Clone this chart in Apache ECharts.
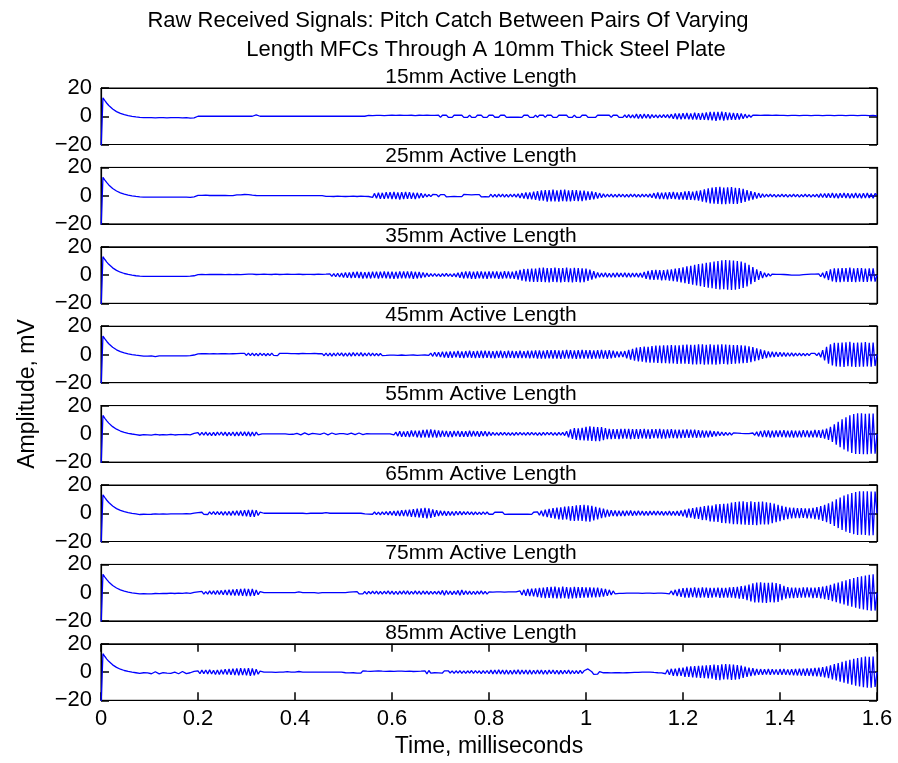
<!DOCTYPE html>
<html>
<head>
<meta charset="utf-8">
<script src="https://cdn.jsdelivr.net/npm/echarts@6/dist/echarts.min.js"></script>
<style>
html,body{margin:0;padding:0;background:#fff;}
#chart{width:898px;height:763px;}
</style>
</head>
<body>
<div id="chart"></div>
<script>
// ---------------- DATA ----------------
const timeStart = 0;      // ms
const timeEnd = 1.6;      // ms
const xTickValues = [0, 0.2, 0.4, 0.6, 0.8, 1, 1.2, 1.4, 1.6];
const yTickValues = [-20, 0, 20];
const panelLabels = ['15mm Active Length','25mm Active Length','35mm Active Length','45mm Active Length',
                     '55mm Active Length','65mm Active Length','75mm Active Length','85mm Active Length'];

// shared start of every record (t = 0 ... 0.076 ms), mV
const onset = [-25,13,11,9.2,7.6,6.2,5.1,4.1,3.3,2.6,2,1.5,1.1,0.7,0.4,0.1,-0.1,-0.3,-0.5,-0.6];

// remainder of each record (t = 0.080 ... 1.6 ms, 0.004 ms steps), mV
const sig15 = [
-0.8,-0.9,-1,-1,-1,
-1,-1,-1,-1.1,-1,-1,-1,-1,-1,-1.1,-1,-1,-1,-1,-1,-1,-1,-1.1,-1,-1,-0.4,-1.3,-0.3,-1.2,-0.4,
0,-0.2,0,0,0,0,0,0,0,0,0,0,0,0,0,0,0,0,0,0,0,0,0,0,0,
0,0,0,0,0,0.9,-0.5,0,0,0,0,0,0,0,0,0,0,0,0,0,0,0,0,0,0,
0,0,0,0,0,0,0,0,0,0,0,0,0,0,0,0,0,0,0,0,0,0,0,0,0,
0,0,0,0,0,0,0,0,0,0,0,0,0,0.6,-0.6,0.5,-0.6,0.6,-0.5,0.6,-0.6,0.5,-0.6,0.6,-0.5,
0.7,-0.6,0.6,-0.7,0.7,-0.5,0.6,-0.7,0.6,-0.6,0.7,-0.6,0.5,-0.7,0.7,-0.6,0.6,-0.6,0.7,-0.5,0.6,-0.7,0.6,-0.6,0.7,
-0.8,0.7,-0.6,0.8,-0.7,0.6,-0.8,0.7,-0.7,0.8,-0.6,0.7,-0.8,0.6,-0.7,0.8,-0.7,0.6,-0.8,0.7,-0.6,0.8,-0.7,0.7,-0.8,
0.7,-0.6,0.8,-0.7,0.6,-0.7,0.8,-0.6,0.7,-0.8,0.6,-0.7,0.7,-0.6,0.8,-0.7,0.6,-0.8,0.7,-0.6,0.7,-0.8,0.6,-0.7,0.8,
-0.7,0.8,-0.6,0.7,-0.8,0.7,-0.6,0.8,-0.7,0.6,-0.8,0.7,-0.7,0.8,-0.6,0.7,-0.8,0.6,-0.7,0.8,-0.7,0.6,-0.8,0.7,-0.6,
0.8,-0.7,0.7,-0.8,0.6,-0.7,0.8,-0.6,0.7,-0.7,0.8,-0.6,0.7,-0.8,0.7,-0.6,0.8,-0.7,0.6,-0.8,0.9,-1,1.2,-1.1,1,
-1.3,1.5,-1.6,1.4,-1.5,1.6,-1.3,1.4,-1.5,1.2,-1,0.9,-1.1,1,-0.9,1.1,-1,1.2,-1.3,1.5,-1.8,2,-2.1,1.9,-2.2,
2.1,-2,2.3,-2.2,2,-2.4,2.5,-2.3,2.2,-2.6,2.4,-2.5,2.8,-2.7,3,-2.9,3.1,-3.2,3,-2.8,3.2,-3,2.9,-2.7,2.6,
-2.5,2.4,-2.6,2.2,-2.3,2,-1.8,1.5,-1.2,0.9,-0.7,0.8,-0.6,0.7,-0.7,0.6,-0.8,0.7,-0.6,0.7,-0.7,0.6,-0.7,0.8,-0.6,
0.6,-0.5,0.6,-0.6,0.5,-0.6,0.6,-0.5,0.6,-0.6,0.5,-0.6,0.6,-0.5,0.6,-0.6,0.5,-0.6,0.6,-0.5,0.6,-0.6,0.5,-0.6,0.6,
-0.5,0.6,-0.6,0.5,-0.6,0.6,-0.5,0.6,-0.6,0.5,-0.6,0.6,-0.5,0.6,-0.6,0.5,-0.6,0.6,-0.5,0.6,-0.6,0.5,-0.6,0.6,-0.5,
0.3];

const sig25 = [
-0.8,-0.9,-1,-1,-1,
-1,-1,-1,-1,-1,-1.1,-1,-1,-1,-1,-1,-1,-1.1,-1,-1,-1,-1,-1,-1,-1,-0.5,-1.2,-0.4,-0.8,-0.3,
0.2,-0.3,0.2,-0.2,0.3,-0.2,0.1,-0.2,0.2,-0.1,0.1,-0.2,0.1,-0.1,0.1,0,0,0,0,0,0.6,-0.4,0.5,-0.3,0.8,
-0.5,0.7,-0.4,0.3,-0.2,0.1,0,0,0,0,0,0,0,0,0,0,0,0,0,0,0,0,0,0,0,
0,0,0,0,0,0,0,0,0,0,0,0,0,0,0,0.4,-0.5,0.6,-0.5,0.4,-0.6,0.5,-0.4,0.6,-0.5,
0.5,-0.6,0.4,-0.5,0.6,-0.4,0.5,-0.6,0.5,-0.4,0.6,-0.5,0.5,-0.6,0.8,-1.2,1.6,-1.9,2.1,-2.2,2,-2.3,2.4,-2.1,2.5,
-2.4,2.6,-2.5,2.3,-2.7,2.5,-2.4,2.6,-2.2,2.5,-2.3,2.1,-2.4,2,-1.8,1.7,-1.5,1.2,-0.9,0.8,-0.7,0.8,-0.6,0.7,-0.8,
0.7,-0.6,0.7,-0.8,0.6,-0.7,0.7,-0.6,0.8,-0.7,0.6,-0.7,0.8,-0.6,0.7,-0.7,0.6,-0.8,0.7,-0.6,0.7,-0.8,0.6,-0.7,0.7,
-0.9,1,-1.1,0.9,-1,1.1,-0.9,1,-1,0.9,-1.1,1,-0.9,1.1,-1,1.3,-1.6,1.8,-2,2.2,-2.4,2.3,-2.6,2.8,-3,
3.2,-3.5,3.8,-3.6,4,-4.2,3.9,-4.1,4.3,-4,3.8,-4.2,4.1,-3.9,4.2,-4,3.8,-4.1,3.9,-3.7,4,-3.8,3.6,-3.9,3.5,
-3.3,3.1,-2.9,3,-2.6,2.4,-2.1,1.8,-1.5,1.3,-1.1,1,-0.9,1.1,-1,0.9,-1,1.1,-0.9,1,-1.1,0.9,-1,1,-0.9,
1.1,-1,0.9,-1,1.1,-0.9,1,-1.1,1.2,-1.5,1.8,-2,2.2,-2.4,2.1,-2.5,2.3,-2.6,2.4,-2.2,2.6,-2.5,2.3,-2.7,2.5,
-2.8,3,-2.9,3.2,-3,2.8,-3.1,3.3,-3.5,3.8,-4.2,4.5,-4.8,5.2,-5.5,5.8,-5.6,6,-5.9,6.2,-6,5.8,-6.1,5.9,-5.7,
6,-5.8,5.6,-5.9,5.4,-5.2,4.8,-4.5,4,-3.6,3.2,-2.8,2.4,-2.1,1.8,-1.5,1.3,-1.1,1,-0.9,1,-0.8,0.9,-1,0.8,
-0.9,1,-0.8,0.9,-1,0.8,-0.9,1,-0.8,0.9,-1,0.8,-0.9,1,-0.8,0.9,-1,0.8,-0.9,1,-1.2,1.4,-1.3,1.5,-1.4,
1.6,-1.5,1.8,-1.7,1.6,-1.8,1.7,-1.5,1.8,-1.6,1.7,-1.8,1.6,-1.7,1.8,-1.6,1.5,-1.8,1.7,-1.6,1.8,-1.7,1.6,-1.8,1.5,
0.5];

const sig35 = [
-0.8,-0.9,-1,-1,-1,
-1,-1,-1,-1,-1,-1,-1,-1,-1,-1,-1,-1,-1,-1,-1,-1,-1,-1,-1,-1,-0.9,-0.8,-0.7,-0.5,-0.3,
0.3,-0.4,0.4,-0.5,0.3,-0.4,0.5,-0.3,0.4,-0.5,0.4,-0.3,0.5,-0.4,0.3,-0.5,0.4,-0.4,0.3,-0.5,0.5,-0.4,0.3,-0.4,0.5,
-0.5,0.6,-0.4,0.6,-0.5,0.4,-0.6,0.5,-0.5,0.6,-0.4,0.5,-0.6,0.4,-0.5,0.6,-0.5,0.4,-0.6,0.5,-0.4,0.6,-0.5,0.5,-0.6,
0.5,-0.4,0.6,-0.5,0.4,-0.6,0.5,-0.4,0.5,-0.6,0.4,-0.5,0.6,-0.4,0.5,-0.5,0.6,-0.7,0.8,-0.9,1,-1.2,1.3,-1.4,1.5,
-1.7,1.8,-2,1.9,-2.1,2.2,-2,2.3,-2.1,2.2,-2.4,2.1,-2.3,2.2,-2.4,2.3,-2.2,2.4,-2.5,2.3,-2.2,2.5,-2.3,2.4,-2.5,
2.4,-2.6,2.3,-2.5,2.6,-2.4,2.5,-2.3,2.6,-2.4,2.5,-2.6,2.3,-2.4,2.2,-2.1,1.9,-1.6,1.4,-1.2,1,-0.9,1.1,-1,0.9,
-1.1,1,-0.9,1.2,-1,0.8,-1.1,1,-1.3,1.6,-1.9,2.2,-2.4,2.6,-2.3,2.5,-2.7,2.4,-2.6,2.5,-2.3,2.6,-2.5,2.4,-2.6,
2.5,-2.3,2.6,-2.4,2.5,-2.6,2.3,-2.5,2.7,-2.4,2.6,-2.5,2.4,-2.7,2.9,-3.3,3.7,-4,4.3,-4.5,4.4,-4.7,4.5,-4.8,4.6,
-4.9,5.1,-4.8,5.2,-5,4.9,-5.3,5,-4.8,5.2,-5.1,4.9,-5.2,5,-4.9,5.3,-5,4.8,-5.2,5.1,-4.9,5,-5.2,4.8,-5,
4.6,-4.2,3.8,-3.3,2.8,-2.3,1.9,-1.6,1.5,-1.4,1.6,-1.5,1.3,-1.6,1.4,-1.5,1.6,-1.3,1.5,-1.4,1.6,-1.5,1.4,-1.6,1.5,
-1.4,1.5,-1.6,1.4,-1.8,2.2,-2.7,3,-3.3,3.5,-3.4,3.6,-3.3,3.5,-3.7,3.4,-3.6,3.8,-3.9,4.1,-4.3,4.5,-4.7,4.9,-5.2,
5.5,-5.8,6.1,-6.3,6.6,-6.9,7.2,-7.4,7.7,-7.9,8.2,-8.4,8.7,-8.9,9.1,-9.3,9.5,-9.8,9.9,-10.2,10.4,-10.1,10.6,-10.3,10.5,
-10.6,10.2,-10.4,10,-9.8,9.5,-9.1,8.6,-8,7.3,-6.5,5.7,-4.9,4.1,-3.4,2.8,-2.2,1.7,-1.3,1,-0.8,0.7,-0.6,0.5,-0.5,
0.5,-0.4,0.4,-0.3,0.2,-0.1,0,0,0,0,0,0,0.3,-0.4,0.5,-0.4,0.6,-0.5,0.6,-0.7,0.9,-1.2,1.6,-2.2,2.8,
-3.5,4.1,-4.5,4.8,-5,4.7,-5.1,4.9,-4.6,5,-4.8,5.2,-4.9,4.7,-5.1,4.9,-4.7,5,-4.8,4.6,-4.9,4.8,-4.5,4.7,-4.6,
0];

const sig45 = [
-0.8,-1,-1.2,-1.3,-1.2,
-1.1,-1,-1.4,-1.6,-1.3,-1,-1,-1,-1,-1,-1,-1,-1,-1,-1,-1,-1,-1,-1,-1,-0.9,-0.8,-0.6,-0.4,-0.2,
0.4,-0.5,0.6,-0.4,0.5,-0.6,0.4,-0.5,0.6,-0.5,0.4,-0.6,0.5,-0.4,0.6,-0.5,0.4,-0.6,0.5,-0.5,0.6,-0.4,0.7,-0.6,0.8,
-0.7,0.9,-0.8,1,-0.9,0.8,-1,0.9,-0.7,0.8,-0.9,0.7,-0.8,0.9,-0.7,0.6,-0.8,0.7,-0.6,0.7,-0.6,0.7,-0.5,0.6,-0.7,
0.6,-0.7,0.5,-0.6,0.7,-0.5,0.6,-0.7,0.6,-0.5,0.7,-0.6,0.5,-0.7,0.6,-0.9,1,-1.1,0.9,-1.2,1,-1.1,1.2,-0.9,1.1,
-1.2,1,-1.3,1.1,-1.2,1.3,-1,1.2,-1.1,1.3,-1.2,1,-1.1,1.2,-1,0.9,-1,0.8,-0.9,0.7,-0.8,0.6,-0.7,0.6,-0.5,
0.6,-0.5,0.4,-0.6,0.5,-0.4,0.5,-0.6,0.4,-0.5,0.6,-0.4,0.5,-0.6,0.4,-0.5,0.6,-0.4,0.5,-0.6,0.9,-1.3,1.5,-1.4,1.6,
-1.8,2,-2.2,1.9,-2.3,2.1,-2.4,2.2,-2,2.5,-2.3,2.1,-2.5,2.4,-2.2,2.6,-2.4,2.3,-2.6,2.5,-2.4,2.7,-2.5,2.6,-2.4,
2.5,-2.6,2.4,-2.7,2.5,-2.3,2.6,-2.5,2.4,-2.6,2.7,-2.4,2.5,-2.6,2.3,-2.5,2.7,-2.6,2.4,-2.5,2.6,-2.8,2.7,-2.6,2.8,
-2.9,2.8,-3,2.7,-2.9,3.1,-2.8,3,-2.9,3.1,-3,2.8,-3.1,2.9,-3,3.2,-2.9,3.1,-3,2.8,-3.1,3,-2.9,3.2,-3,
3.1,-2.9,3,-3.2,2.8,-3,3.1,-2.9,3.2,-3,2.9,-3.1,3,-2.8,2.6,-2.3,2.1,-2,2.2,-1.9,2.4,-2.8,3.2,-3.6,4,
-4.4,4.8,-5,5.3,-5.1,5.5,-5.7,5.4,-5.8,6,-5.9,6.2,-6,6.3,-6.1,6.4,-6.2,6.5,-6.3,6.6,-6.4,6.5,-6.7,6.4,-6.6,
6.8,-6.6,7,-6.8,6.9,-7.1,6.8,-7,7.2,-6.9,7.1,-7.3,6.9,-7.1,7.2,-7,6.8,-7.2,7,-6.9,7.1,-6.8,7,-7.1,6.9,
-6.8,6.6,-6.5,6.7,-6.4,6.5,-6.2,6.3,-6,5.8,-5.5,5.2,-4.8,4.4,-4,3.6,-3.2,2.8,-2.5,2.2,-2,1.9,-1.8,1.7,-1.6,
1.5,-1.4,1.3,-1.4,1.2,-1.3,1.1,-1.2,1,-1.1,0.9,-1,0.8,-0.9,0.8,-0.7,0.8,-0.6,0.7,-0.8,1.2,-2,3,-4.2,5.4,
-6.5,7.2,-7.8,8.2,-8.5,8.3,-8.7,8.5,-8.8,8.6,-8.4,8.9,-8.6,8.3,-8.8,8.5,-8.7,8.4,-8.6,8.8,-8.5,8.3,-8.7,8.4,-8.2,
0];

const sig55 = [
-1,-1.2,-0.6,-1.3,-0.7,
-0.2,-0.9,-1.1,-0.4,-0.1,-0.8,-1.2,-0.5,0,-0.7,-1.1,-0.4,-0.1,-0.8,-1.2,-0.5,0,-0.6,-1,-0.3,0.1,-0.7,-1,0.3,-0.9,
0.8,-1,1.1,-0.9,1.2,-1.1,0.9,-1.2,1,-1.3,1.2,-1,1.3,-1.1,1.2,-1.4,1.1,-1.2,1.3,-1.5,1.2,-1.4,1.5,-1.3,1.4,
-1.5,1.4,-1.6,1.3,-1.5,1.2,-0.8,0.4,0,0,0,0,0,0,0,0,0,0,0,0,0,0.3,-0.4,0.5,-0.3,
0.6,0.3,-0.5,-0.7,0.2,0.7,0.2,-0.6,-0.5,0.3,0.7,0,-0.6,-0.4,0.4,0.6,-0.1,-0.7,-0.2,0.6,0.5,-0.3,-0.6,0.1,0.6,
0.1,-0.6,-0.3,0.5,0.5,-0.2,-0.6,0.1,0.6,0.2,-0.5,-0.3,0.2,0,0,0,0,0,0,0,0,0,0,0,0,
0.4,-0.8,1.2,-1.6,1.8,-2,1.7,-2.1,1.9,-2.2,2.4,-2,2.3,-2.5,2.2,-2.6,2.8,-2.4,3,-2.7,3.1,-2.5,2.8,-2.6,2.4,
-2.2,2.3,-2,2.1,-2.3,1.9,-2.2,2,-1.8,2.1,-2,1.9,-2.1,1.8,-2,2.2,-1.9,2,-1.7,1.9,-2,1.8,-1.6,1.9,-1.7,
1.4,-1.2,1.1,-1,0.9,-1.1,1,-0.9,1.1,-1,0.8,-1,0.9,-1.1,1,-0.9,1,-0.8,0.9,-1,1.1,-0.9,1,-0.8,0.9,
-1,0.9,-1.1,1,-0.9,1,-0.8,1.1,-1,0.9,-1.1,1,-0.9,1,-1.2,1.8,-2.5,3.2,-3.6,4,-4.3,3.9,-4.5,4.2,-4.6,
5,-4.8,5.3,-5,4.9,-5.2,4.7,-5.1,4.8,-4.4,4,-3.7,3.5,-3.8,3.4,-3.6,3.3,-3.7,3.5,-3.4,3.6,-3.3,3.5,-3.7,3.4,
-3.5,3.3,-3.6,3.4,-3.2,3.5,-3.4,3.2,-3.5,3.3,-3.1,3.4,-3.2,3.5,-3.3,3.1,-3.4,3.2,-3,3.3,-3.1,3,-3.2,2.9,-3.1,
3,-2.9,3.1,-2.8,3,-2.7,2.9,-2.8,2.6,-2.7,2.5,-2.6,2.3,-2.4,2.2,-2,1.9,-1.7,1.6,-1.4,1.3,-1.2,1.1,-1,0.9,
-0.8,0.7,-0.6,0.5,-0.4,0.3,-0.2,0.2,-0.1,0.1,0,0.6,-1,1.4,-1.8,2.1,-2.3,2.5,-2.2,2.4,-2.6,2.3,-2.5,2.4,-2.2,
2.5,-2.3,2.6,-2.4,2.2,-2.5,2.4,-2.6,2.3,-2.5,2.2,-2.4,2.6,-2.3,2.5,-2.4,2.2,-2.5,2.7,-2.4,2.6,-2.8,3,-3.3,3.7,
-4.3,5,-5.8,6.7,-7.6,8.5,-9.4,10.3,-11,11.8,-12.5,13.1,-13.6,14,-14.3,14.5,-14.2,14.6,-14.4,14.2,-14.5,14.3,-14,14.4,-14.1,
0];

const sig65 = [
-0.9,-1.1,-0.7,-1.2,-0.8,
-0.3,-0.7,-0.9,-0.5,-0.2,-0.6,-0.9,-0.5,-0.2,-0.6,-0.8,-0.4,-0.1,-0.5,-0.8,-0.4,0,-0.5,-0.7,-0.2,0.2,-0.4,-0.6,0.1,-0.3,
0.5,-0.6,0.7,-0.8,0.6,-0.9,1,-0.8,1.1,-0.9,1.2,-1,1.1,-1.3,1.2,-1.4,1.3,-1.5,1.6,-1.4,1.8,-1.6,2,-1.9,2.2,
-2.1,2.4,-2.5,2.3,-2.6,2.2,-1.6,0.8,0,0,0,0,0,0,0,0,0,0,0,0,0,0,0,0,0,
0,0,0,0,0,0.5,-0.3,0,0,0,0,0,0,0,0,0,0.4,-0.3,0,0,0,0,0,0,0,
0,0,0,0,0,0,0,0,0,0,0.3,-0.5,0.7,-0.6,0.8,-0.7,0.9,-1,0.8,-1.1,1,-0.9,1.2,-1.1,1.3,
-1.4,1.6,-1.8,1.7,-2,2.2,-1.9,2.4,-2.2,2.6,-2.5,2.9,-2.7,3.2,-3,3.5,-3.3,3.8,-3.6,3.4,-3.2,2.8,-2.5,2.2,-2,
1.8,-1.6,1.5,-1.7,1.4,-1.5,1.3,-1.6,1.4,-1.2,1.3,-1.1,1.2,-1,1.1,-0.9,1,-1.1,0.9,-1,0.8,-0.9,1,-0.8,0.9,
-0.7,0.6,-0.7,0.8,-0.6,0.7,-0.6,0.7,-0.8,0.6,-0.7,0.6,-0.7,0.6,-0.7,0.7,-0.6,0.8,-0.7,0.6,-0.7,0.6,-0.8,0.7,-0.6,
1,-1.4,1.8,-2.2,2.5,-2.8,3.1,-3.3,3.6,-3.8,4,-4.3,4.1,-4.5,4.7,-4.4,4.9,-5.2,5,-5.4,5.6,-5.3,5.8,-5.5,6,
-5.8,5.6,-5.9,5.2,-5,4.6,-4.3,3.9,-3.5,3.2,-2.9,2.6,-2.4,2.2,-2,1.9,-2.1,1.8,-2,1.7,-1.9,1.8,-1.6,1.9,-1.7,
1.6,-1.5,1.7,-1.4,1.6,-1.5,1.4,-1.6,1.5,-1.3,1.5,-1.4,1.6,-1.3,1.4,-1.5,1.3,-1.4,1.6,-1.5,1.4,-1.6,1.5,-1.7,1.9,
-2.2,2.6,-3,3.3,-3.1,3.6,-3.9,4.2,-4,4.5,-4.8,5.1,-4.9,5.4,-5.7,5.5,-6,6.3,-6.1,6.5,-6.8,6.6,-7,6.8,-7.2,
7.5,-7.8,8,-7.7,8.2,-8,8.4,-8.1,7.9,-8.3,8.5,-8.2,8,-8.4,8.1,-7.9,8.3,-8,7.7,-7.9,7.4,-7.1,6.8,-6.4,6,
-5.6,5.2,-4.8,4.5,-4.2,4,-3.7,3.9,-3.5,3.7,-3.4,3.6,-3.3,3.5,-3.6,3.4,-3.7,3.9,-4.1,4.3,-4.6,5,-5.4,5.9,-6.4,
7,-7.6,8.3,-9,9.8,-10.5,11.2,-11.9,12.5,-13,13.5,-14,14.4,-14.8,15.1,-15.3,15.5,-15.2,15.6,-15.4,15.5,-15.7,15.4,-15.6,15.3,
0];

const sig75 = [
-0.9,-1.1,-0.7,-1.2,-0.8,
-0.4,-0.8,-1,-0.6,-0.2,-0.7,-1,-0.5,-0.1,-0.6,-0.9,-0.4,0,-0.6,-0.9,-0.3,0.1,-0.5,-0.8,-0.2,0.2,-0.5,-0.7,0.2,-0.4,
0.6,-0.8,0.9,-1,0.8,-1.1,1.2,-1,1.3,-1.2,1.5,-1.3,1.6,-1.5,1.8,-1.7,2,-1.8,2.2,-2,2.4,-2.1,2.6,-2.3,2.8,
-2.5,2.7,-2.4,2.6,-2.2,1.9,-1.4,0.7,0,0,0,0,0,0,0,0,0,0,0,0,0,0,0,0,0,
0,0,0.5,-0.3,0,0,0,0,0,0,0,0.4,-0.3,0,0,0,0,0,0,0,0,0,0,0,0,
0,0,0,0.3,-0.4,0.6,-0.5,0.7,-0.8,0.6,-0.9,0.8,-1,0.9,-0.8,1,-0.9,1.1,-1,0.9,-1.1,1,-0.9,1.2,-1,
1.1,-1.2,1,-1.3,1.1,-1,1.2,-1.1,1.3,-1.2,1,-1.1,1.2,-1,1.1,-1.3,1.2,-1,1.1,-1.2,1,-1.1,0.9,-1,1.1,
-1.2,1.6,-1.8,1.5,-1.3,1.2,-1.4,1.1,-1.3,1.6,-1.8,1.9,-1.5,1.3,-1.2,1.1,-1.3,1,-1.2,1.1,-1,1.2,-1.1,0.9,-1,
0.6,-0.5,0.4,-0.6,0.5,-0.4,0.6,-0.5,0.4,-0.5,0.6,-0.4,0.5,-0.6,0.5,-0.8,1.2,-1.6,2,-2.3,2.6,-2.4,2.8,-2.7,3,
-3.2,3.4,-3.6,3.5,-3.8,4,-3.7,4.1,-3.9,4.2,-4,3.8,-4.1,4.3,-3.9,4,-4.2,3.8,-4,4.1,-3.8,4,-3.7,3.9,-3.6,
3.8,-3.5,3.7,-3.4,3.6,-3.3,3.5,-3.2,3,-2.8,2.6,-2.3,2,-1.6,1.2,-0.8,0.6,-0.5,0.4,-0.5,0.4,-0.3,0.5,-0.4,0.3,
-0.4,0.5,-0.3,0.4,-0.5,0.3,-0.4,0.5,-0.3,0.4,-0.5,0.3,-0.4,0.5,-0.3,0.4,-0.5,0.6,-0.8,1.2,-1.6,2,-2.4,2.7,-3,
3.2,-3.5,3.3,-3.6,3.4,-3.2,3.7,-3.5,3.3,-3.6,3.8,-3.4,3.5,-3.7,3.3,-3.6,3.4,-3.2,3.5,-3.7,3.4,-3.6,3.3,-3.5,3.8,
-3.6,3.9,-3.8,4.1,-4.3,4.6,-4.5,5,-5.4,5.8,-6.2,6.6,-6.9,7.2,-7,7.3,-7.1,6.9,-7.2,7,-6.8,7.1,-6.9,6.7,-6.5,
6,-5.4,4.8,-4.3,4,-3.8,3.6,-3.9,3.5,-3.7,3.4,-3.6,3.8,-3.5,3.7,-3.4,3.6,-3.8,3.5,-3.7,3.9,-4.1,4.3,-4.6,4.9,
-5.2,5.6,-6,6.4,-6.8,7.2,-7.6,8,-8.4,8.8,-9.2,9.6,-10,10.3,-10.6,11,-11.3,11.6,-11.9,12.2,-12.4,12.6,-12.8,13,-12.7,
0];

const sig85 = [
-0.9,-1.3,-0.5,-1.4,-0.6,
-0.1,-1.2,-0.6,0.2,-1,-1.3,0,-0.4,-1.2,-0.8,0.3,-0.9,-1.3,-0.1,-0.3,-1.2,-0.7,0.4,-0.8,-1.1,0.2,-0.5,-1.2,0.5,-0.9,
0.8,-1.2,1.4,-1.1,1.5,-1.3,1.6,-1.4,1.2,-1.7,1.5,-1.8,1.7,-1.5,2,-1.8,2.2,-1.9,2.4,-2.1,2.5,-2.3,2.7,-2.2,2.6,
-2.4,2.8,-2.6,2.5,-2.3,2,-1.5,0.6,0,0,0,0,0,0,0.4,-0.3,0,0,0,0,-0.4,0.3,0,0,0,
0,0,0.4,-0.3,0,0,0,0,0,0,0,0,0,0,0,0,0,0,0,0,0,0,0,0,0,
0.3,-0.5,0.7,-0.6,0.8,-0.5,0.7,-0.8,0.6,-0.7,0.8,-0.5,0.6,-0.7,0.5,-0.8,0.7,-0.6,0.8,-0.5,0.6,-0.7,0.5,-0.6,0.7,
-0.6,0.5,-0.7,0.6,-0.5,0.7,-0.6,0.5,-0.4,0.6,-0.5,0.4,-0.6,0.5,-0.4,0.6,-0.5,0.9,-1.3,1.1,-0.8,0.6,-0.5,0.7,-0.6,
0.5,-0.7,0.8,-0.6,0.9,-0.7,0.8,-1,0.9,-0.8,1,-0.9,0.8,-1,0.9,-0.8,1.1,-0.9,1,-0.8,0.9,-1.1,1,-0.9,1.1,
-1.2,1.4,-1.3,1.5,-1.4,1.6,-1.3,1.5,-1.6,1.4,-1.5,1.3,-1.6,1.5,-1.4,1.6,-1.5,1.4,-1.3,1.5,-1.6,1.4,-1.5,1.3,-1.4,
1.5,-1.3,1.4,-1.6,1.3,-1.5,1.4,-1.2,1.5,-1.4,1.3,-1.5,1.2,-1.4,1.3,-1.2,1.4,-1.3,1.1,-1.2,1,-1.1,1.2,-1,0.9,
1.2,2.2,1.6,0.2,-1.6,-2.3,-1.4,0.3,0.6,-0.5,0.6,-0.4,0.5,-0.6,0.4,-0.5,0.6,-0.4,0.5,-0.6,0.4,-0.5,0.6,-0.4,0.5,
-0.3,0.2,-0.2,0.1,0,0,0,0,0,0.2,-0.3,0.4,-0.5,0.4,-0.6,0.8,-1.2,1.6,-2,2.3,-2.6,2.4,-2.8,3,-2.7,
3.2,-3.5,3.8,-3.4,4,-3.7,4.2,-3.9,4.4,-4.1,4.6,-4.3,4.8,-4.5,5,-4.7,5.2,-5.5,5,-5.7,5.4,-5.2,5.6,-5.3,5.5,
-5.6,5.2,-5.4,4.9,-5,4.6,-4.2,3.9,-3.5,3.2,-2.9,2.7,-2.4,2.2,-2,2.1,-1.9,2,-1.8,2.1,-1.9,2,-1.8,1.9,-2,
2.1,-1.9,2.2,-2,1.9,-2.2,2.1,-2.3,2.2,-2.4,2.3,-2.5,2.4,-2.6,2.5,-2.7,2.6,-2.8,2.9,-3,3.1,-3.3,3.5,-3.8,4,
-4.4,4.8,-5.2,5.6,-6,6.4,-6.8,7.2,-7.6,8,-8.3,8.6,-9,9.3,-9.6,9.9,-10.2,10.5,-10.7,10.9,-11,10.8,-11.1,10.9,-10.6,
0];

const records = [sig15, sig25, sig35, sig45, sig55, sig65, sig75, sig85];

// ---------------- LAYOUT ----------------
const FONT = '"Liberation Sans", Arial, Helvetica, sans-serif';
const plotLeft = 101, plotWidth = 776, panelHeight = 56.5;
const panelTop0 = 88, panelStep = 79.4;
const blue = '#0000ff';

const fmtY = v => (v < 0 ? '\u2212' + Math.abs(v) : String(v));
const fmtX = v => String(+(+v).toFixed(1));
const blackLine = {show: true, onZero: false, lineStyle: {color: '#000', width: 1.2}};
const tickStyle = {show: true, inside: true, length: 8, lineStyle: {color: '#000', width: 1.5}};

const grids = [], xAxes = [], yAxes = [], series = [], graphics = [];
records.forEach((rec, i) => {
  const top = panelTop0 + i * panelStep;
  grids.push({left: plotLeft, top: top, width: plotWidth, height: panelHeight,
    show: true, borderColor: '#000', borderWidth: 1, backgroundColor: 'rgba(0,0,0,0)'});
  const isLast = i === records.length - 1;
  const xIndex = xAxes.length;
  xAxes.push({gridIndex: i, type: 'value', position: 'bottom', min: timeStart, max: timeEnd, interval: 0.2,
    axisLine: blackLine, splitLine: {show: false},
    axisTick: isLast ? tickStyle : {show: false},
    axisLabel: {show: isLast, formatter: fmtX, color: '#000', fontSize: 22, fontFamily: FONT, margin: 8}});
  xAxes.push({gridIndex: i, type: 'value', position: 'top', min: timeStart, max: timeEnd, interval: 0.2,
    axisLine: blackLine, splitLine: {show: false},
    axisTick: isLast ? tickStyle : {show: false},
    axisLabel: {show: false}});
  const yIndex = yAxes.length;
  yAxes.push({gridIndex: i, type: 'value', position: 'left', min: yTickValues[0], max: yTickValues[2], interval: 20,
    axisLine: blackLine, splitLine: {show: false},
    axisTick: tickStyle,
    axisLabel: {formatter: fmtY, color: '#000', fontSize: 22, fontFamily: FONT, margin: 9}});
  yAxes.push({gridIndex: i, type: 'value', position: 'right', min: -20, max: 20, interval: 20,
    axisLine: blackLine, splitLine: {show: false},
    axisTick: tickStyle,
    axisLabel: {show: false}});
  const full = onset.concat(rec);
  const dt = (timeEnd - timeStart) / (full.length - 1);
  series.push({type: 'line', xAxisIndex: xIndex, yAxisIndex: yIndex,
    data: full.map((v, k) => [timeStart + k * dt, v]),
    showSymbol: false, symbol: 'none', clip: true, silent: true,
    lineStyle: {color: blue, width: 1.3}, animation: false});
  graphics.push({type: 'text', silent: true,
    x: plotLeft + plotWidth / 2 - 8, y: top - 11,
    style: {text: panelLabels[i], fill: '#000', font: '21px ' + FONT, textAlign: 'center', textVerticalAlign: 'middle'}});
});

graphics.push({type: 'text', silent: true, x: 448, y: 21,
  style: {text: 'Raw Received Signals: Pitch Catch Between Pairs Of Varying', fill: '#000', font: '22px ' + FONT, textAlign: 'center', textVerticalAlign: 'middle'}});
graphics.push({type: 'text', silent: true, x: 486, y: 50,
  style: {text: 'Length MFCs Through A 10mm Thick Steel Plate', fill: '#000', font: '22px ' + FONT, textAlign: 'center', textVerticalAlign: 'middle'}});
graphics.push({type: 'text', silent: true, x: 489, y: 747,
  style: {text: 'Time, milliseconds', fill: '#000', font: '23px ' + FONT, textAlign: 'center', textVerticalAlign: 'middle'}});
graphics.push({type: 'text', silent: true, x: 28, y: 394, rotation: Math.PI / 2,
  style: {text: 'Amplitude, mV', fill: '#000', font: '23px ' + FONT, textAlign: 'center', textVerticalAlign: 'middle'}});

const chart = echarts.init(document.getElementById('chart'), null, {renderer: 'canvas'});
chart.setOption({
  animation: false,
  backgroundColor: '#fff',
  grid: grids, xAxis: xAxes, yAxis: yAxes, series: series,
  graphic: graphics
});
</script>
</body>
</html>
